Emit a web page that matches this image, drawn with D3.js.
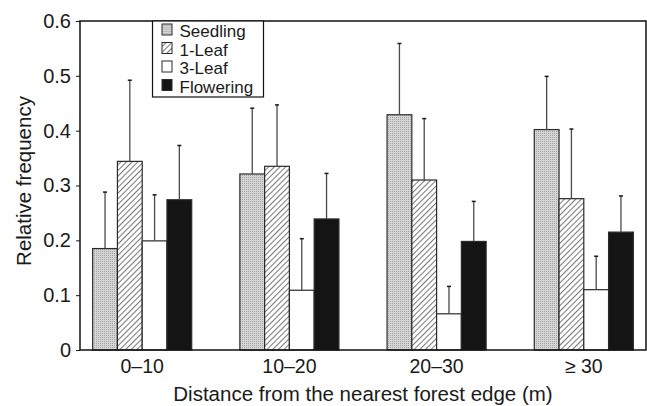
<!DOCTYPE html>
<html>
<head>
<meta charset="utf-8">
<script src="https://cdn.jsdelivr.net/npm/d3@7"></script>
<style>
  body { margin: 0; background: #fff; }
  svg text { font-family: "Liberation Sans", Arial, Helvetica, sans-serif; fill: #1a1a1a; }
</style>
</head>
<body>
<div class="chart"></div>
<script>
// data
var categories = ["0–10", "10–20", "20–30", "≥ 30"];
var seriesNames = ["Seedling", "1-Leaf", "3-Leaf", "Flowering"];

var seedling = [0.185, 0.321, 0.429, 0.402];
var leaf1 = [0.344, 0.335, 0.310, 0.276];
var leaf3 = [0.199, 0.109, 0.066, 0.110];
var flowering = [0.274, 0.239, 0.198, 0.215];

// upper error (bar top to whisker top)
var seedlingErr = [0.103, 0.120, 0.130, 0.097];
var leaf1Err = [0.148, 0.112, 0.112, 0.127];
var leaf3Err = [0.084, 0.094, 0.050, 0.061];
var floweringErr = [0.099, 0.083, 0.073, 0.066];

var yTicks = [0, 0.1, 0.2, 0.3, 0.4, 0.5, 0.6];

var svgWidth = 647;
var svgHeight = 406;

var margin = { top: 21, right: 1, bottom: 56, left: 80 };
var width = svgWidth - margin.left - margin.right;
var height = svgHeight - margin.top - margin.bottom;

var svg = d3.select(".chart")
    .append("svg")
    .attr("width", svgWidth)
    .attr("height", svgHeight);

// fill patterns
var defs = svg.append("defs");

var dots = defs.append("pattern")
    .attr("id", "dots")
    .attr("patternUnits", "userSpaceOnUse")
    .attr("width", 2)
    .attr("height", 2);
dots.append("rect").attr("width", 2).attr("height", 2).attr("fill", "#d6d6d6");
dots.append("rect").attr("width", 1).attr("height", 1).attr("fill", "#a2a2a2");

var hatch = defs.append("pattern")
    .attr("id", "hatch")
    .attr("patternUnits", "userSpaceOnUse")
    .attr("width", 4)
    .attr("height", 4)
    .attr("patternTransform", "rotate(45)");
hatch.append("rect").attr("width", 4).attr("height", 4).attr("fill", "#fff");
hatch.append("line")
    .attr("x1", 0.5).attr("y1", 0).attr("x2", 0.5).attr("y2", 4)
    .attr("stroke", "#7a7a7a")
    .attr("stroke-width", 1.1);

var fills = ["url(#dots)", "url(#hatch)", "#ffffff", "#141414"];

var chartGroup = svg.append("g")
    .attr("transform", `translate(${margin.left}, ${margin.top})`);

// scales
var x0 = d3.scaleBand()
    .domain(categories)
    .range([0, width])
    .paddingInner(0.327)
    .paddingOuter(0.086);

var x1 = d3.scaleBand()
    .domain(seriesNames)
    .range([0, x0.bandwidth()]);

var y = d3.scaleLinear()
    .domain([0, 0.6])
    .range([height, 0]);

// build rows for drawing
var values = [seedling, leaf1, leaf3, flowering];
var errs = [seedlingErr, leaf1Err, leaf3Err, floweringErr];
var rows = [];
categories.forEach(function(cat, i) {
    seriesNames.forEach(function(s, j) {
        rows.push({ cat: cat, series: s, idx: j, value: values[j][i], err: errs[j][i] });
    });
});

// axes
var yAxis = d3.axisLeft(y)
    .tickValues(yTicks)
    .tickFormat(d => d === 0 ? "0" : d3.format(".1f")(d))
    .tickSize(4)
    .tickPadding(5);

var gy = chartGroup.append("g").call(yAxis);
gy.select(".domain").remove();
gy.selectAll("text").style("font-size", "20px");
gy.selectAll("line").attr("stroke", "#1a1a1a");

var xAxis = d3.axisBottom(x0).tickSize(0).tickPadding(9);
var gx = chartGroup.append("g")
    .attr("transform", `translate(0,${height})`)
    .call(xAxis);
gx.select(".domain").remove();
gx.selectAll("text").style("font-size", "19.5px");

// bars
chartGroup.selectAll(".bar")
    .data(rows)
    .enter()
    .append("rect")
    .attr("class", "bar")
    .attr("x", d => x0(d.cat) + x1(d.series))
    .attr("y", d => y(d.value))
    .attr("width", x1.bandwidth())
    .attr("height", d => height - y(d.value))
    .attr("fill", d => fills[d.idx])
    .attr("stroke", "#2a2a2a")
    .attr("stroke-width", 1.2);

// error bars (upper only)
var eb = chartGroup.selectAll(".err")
    .data(rows)
    .enter()
    .append("g")
    .attr("class", "err");

eb.append("line")
    .attr("x1", d => x0(d.cat) + x1(d.series) + x1.bandwidth() / 2)
    .attr("x2", d => x0(d.cat) + x1(d.series) + x1.bandwidth() / 2)
    .attr("y1", d => y(d.value))
    .attr("y2", d => y(d.value + d.err))
    .attr("stroke", "#4a4a4a")
    .attr("stroke-width", 1.3);

eb.append("line")
    .attr("x1", d => x0(d.cat) + x1(d.series) + x1.bandwidth() / 2 - 2)
    .attr("x2", d => x0(d.cat) + x1(d.series) + x1.bandwidth() / 2 + 2)
    .attr("y1", d => y(d.value + d.err))
    .attr("y2", d => y(d.value + d.err))
    .attr("stroke", "#1a1a1a")
    .attr("stroke-width", 1.5);

// frame
chartGroup.append("rect")
    .attr("width", width)
    .attr("height", height)
    .attr("fill", "none")
    .attr("stroke", "#111")
    .attr("stroke-width", 1.5);

// legend
var legend = chartGroup.append("g")
    .attr("transform", "translate(72.5, 0)");

legend.append("rect")
    .attr("width", 111)
    .attr("height", 76)
    .attr("fill", "#fff")
    .attr("stroke", "#111")
    .attr("stroke-width", 1.2);

var items = legend.selectAll(".item")
    .data(seriesNames)
    .enter()
    .append("g")
    .attr("class", "item")
    .attr("transform", (d, i) => `translate(0, ${16 + i * 18.5})`);

items.append("rect")
    .attr("x", 9.5)
    .attr("y", -13)
    .attr("width", 10)
    .attr("height", 11)
    .attr("fill", (d, i) => fills[i])
    .attr("stroke", "#2a2a2a")
    .attr("stroke-width", 1);

items.append("text")
    .attr("x", 27)
    .attr("y", 0)
    .style("font-size", "17px")
    .text(d => d);

// axis titles
svg.append("text")
    .attr("x", margin.left + width / 2)
    .attr("y", 401)
    .attr("text-anchor", "middle")
    .style("font-size", "20.5px")
    .text("Distance from the nearest forest edge (m)");

svg.append("text")
    .attr("transform", "translate(31, 181) rotate(-90)")
    .attr("text-anchor", "middle")
    .style("font-size", "20.5px")
    .text("Relative frequency");
</script>
</body>
</html>
